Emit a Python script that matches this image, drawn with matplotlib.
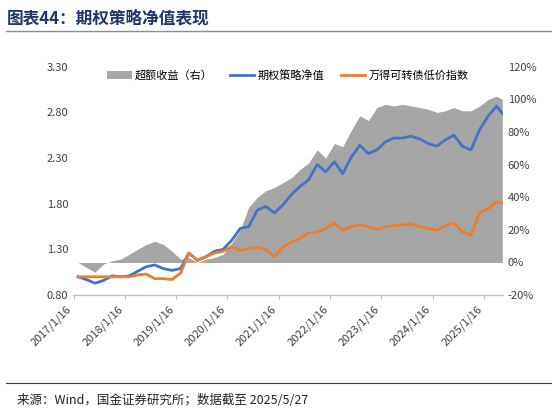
import matplotlib

matplotlib.use("Agg")

import matplotlib.pyplot as plt  # noqa: E402
import matplotlib.dates as mdates  # noqa: E402
import numpy as np  # noqa: E402
import pandas as pd  # noqa: E402

plt.rcParams["font.family"] = ["Noto Sans CJK SC", "DejaVu Sans"]

dates = list(pd.date_range("2017-01-16", "2025-05-16", freq="2MS") + pd.Timedelta(days=15)) + [pd.Timestamp("2025-05-27")]

strategy = [1.00, 0.97, 0.93, 0.96, 1.01, 1.00, 1.01, 1.06, 1.11, 1.13, 1.09, 1.07,
            1.09, 1.26, 1.18, 1.22, 1.28, 1.30, 1.40, 1.53, 1.55, 1.73, 1.77, 1.70,
            1.79, 1.90, 1.99, 2.06, 2.23, 2.15, 2.26, 2.13, 2.31, 2.44, 2.35, 2.39,
            2.48, 2.52, 2.52, 2.54, 2.51, 2.46, 2.43, 2.50, 2.55, 2.43, 2.39, 2.61,
            2.76, 2.87, 2.79, 2.86]
cb_index = [1.00, 1.00, 1.00, 1.00, 1.00, 1.00, 1.00, 1.02, 1.03, 0.98, 0.98, 0.97,
            1.04, 1.26, 1.18, 1.22, 1.26, 1.28, 1.33, 1.29, 1.31, 1.32, 1.30, 1.22,
            1.33, 1.38, 1.42, 1.48, 1.49, 1.53, 1.59, 1.51, 1.55, 1.57, 1.55, 1.52,
            1.55, 1.56, 1.57, 1.58, 1.55, 1.53, 1.51, 1.56, 1.59, 1.49, 1.46, 1.70,
            1.75, 1.82, 1.81, 1.82]
excess = [0, -3, -6, -1, 1, 2, 5, 8, 11, 13, 11, 7,
          2, 3, 0, 2, 3, 5, 12, 20, 34, 40, 44, 46,
          49, 52, 57, 61, 69, 64, 73, 71, 81, 90, 87, 95,
          97, 96, 97, 96, 95, 94, 92, 93, 95, 93, 93, 96,
          100, 102, 100, 103]
n = min(len(dates), len(strategy))
dates, strategy, cb_index, excess = dates[:n], strategy[:n], cb_index[:n], excess[:n]

tick_dates = [pd.Timestamp(f"{y}-01-16") for y in range(2017, 2026)]

fig = plt.figure(figsize=(5.57, 4.15), dpi=100)
ax = fig.add_axes([73 / 557, 0.289, 430 / 557, 0.55])
ax2 = ax.twinx()
ax2.fill_between(dates, 0, excess, color="#a6a6a6", lw=0, label="超额收益（右）")
ax2.set_ylim(-20, 120)
ax2.set_yticks(np.arange(-20, 121, 20))
ax2.set_yticklabels([f"{v}%" for v in range(-20, 121, 20)])
ax.set_zorder(ax2.get_zorder() + 1)
ax.patch.set_visible(False)
ax.plot(dates, strategy, color="#4472c4", lw=2, label="期权策略净值")
ax.plot(dates, cb_index, color="#ed7d31", lw=2, label="万得可转债低价指数")
ax.set_ylim(0.8, 3.3)
ax.set_yticks([0.8, 1.3, 1.8, 2.3, 2.8, 3.3])
ax.set_yticklabels([f"{v:.2f}" for v in [0.8, 1.3, 1.8, 2.3, 2.8, 3.3]])
ax.set_xlim(tick_dates[0] - pd.Timedelta(days=5), pd.Timestamp("2025-06-01"))
ax.set_xticks(tick_dates)
ax.xaxis.set_major_formatter(mdates.DateFormatter("%Y/%-m/%-d"))
for lab in ax.get_xticklabels():
    lab.set_rotation(45)
    lab.set_ha("right")
for a in (ax, ax2):
    for s in ("top", "left", "right"):
        a.spines[s].set_visible(False)
    a.spines["bottom"].set_color("#bfbfbf")
    a.tick_params(length=0, labelsize=8, colors="#404040")
ax.tick_params(axis="x", length=3, color="#bfbfbf")

h1, l1 = ax2.get_legend_handles_labels()
h2, l2 = ax.get_legend_handles_labels()
ax.legend(h1 + h2, l1 + l2, loc="upper center", bbox_to_anchor=(0.5, 1.03), ncol=3,
          frameon=False, fontsize=8, handlelength=2.2, columnspacing=1.5, handletextpad=0.3)

fig.text(0.012, 0.955, "图表44：期权策略净值表现", fontsize=12, fontweight="bold",
         style="italic", color="#1f3864", va="center")
fig.add_artist(plt.Line2D([0.01, 0.99], [0.925, 0.925], color="#7f8fa6", lw=1))
fig.add_artist(plt.Line2D([0.01, 0.99], [0.077, 0.077], color="#404040", lw=0.8))
fig.text(0.03, 0.035, "来源：Wind，国金证券研究所；数据截至 2025/5/27", fontsize=9,
         color="#222222", va="center")
fig.savefig("out.png", dpi=100)
